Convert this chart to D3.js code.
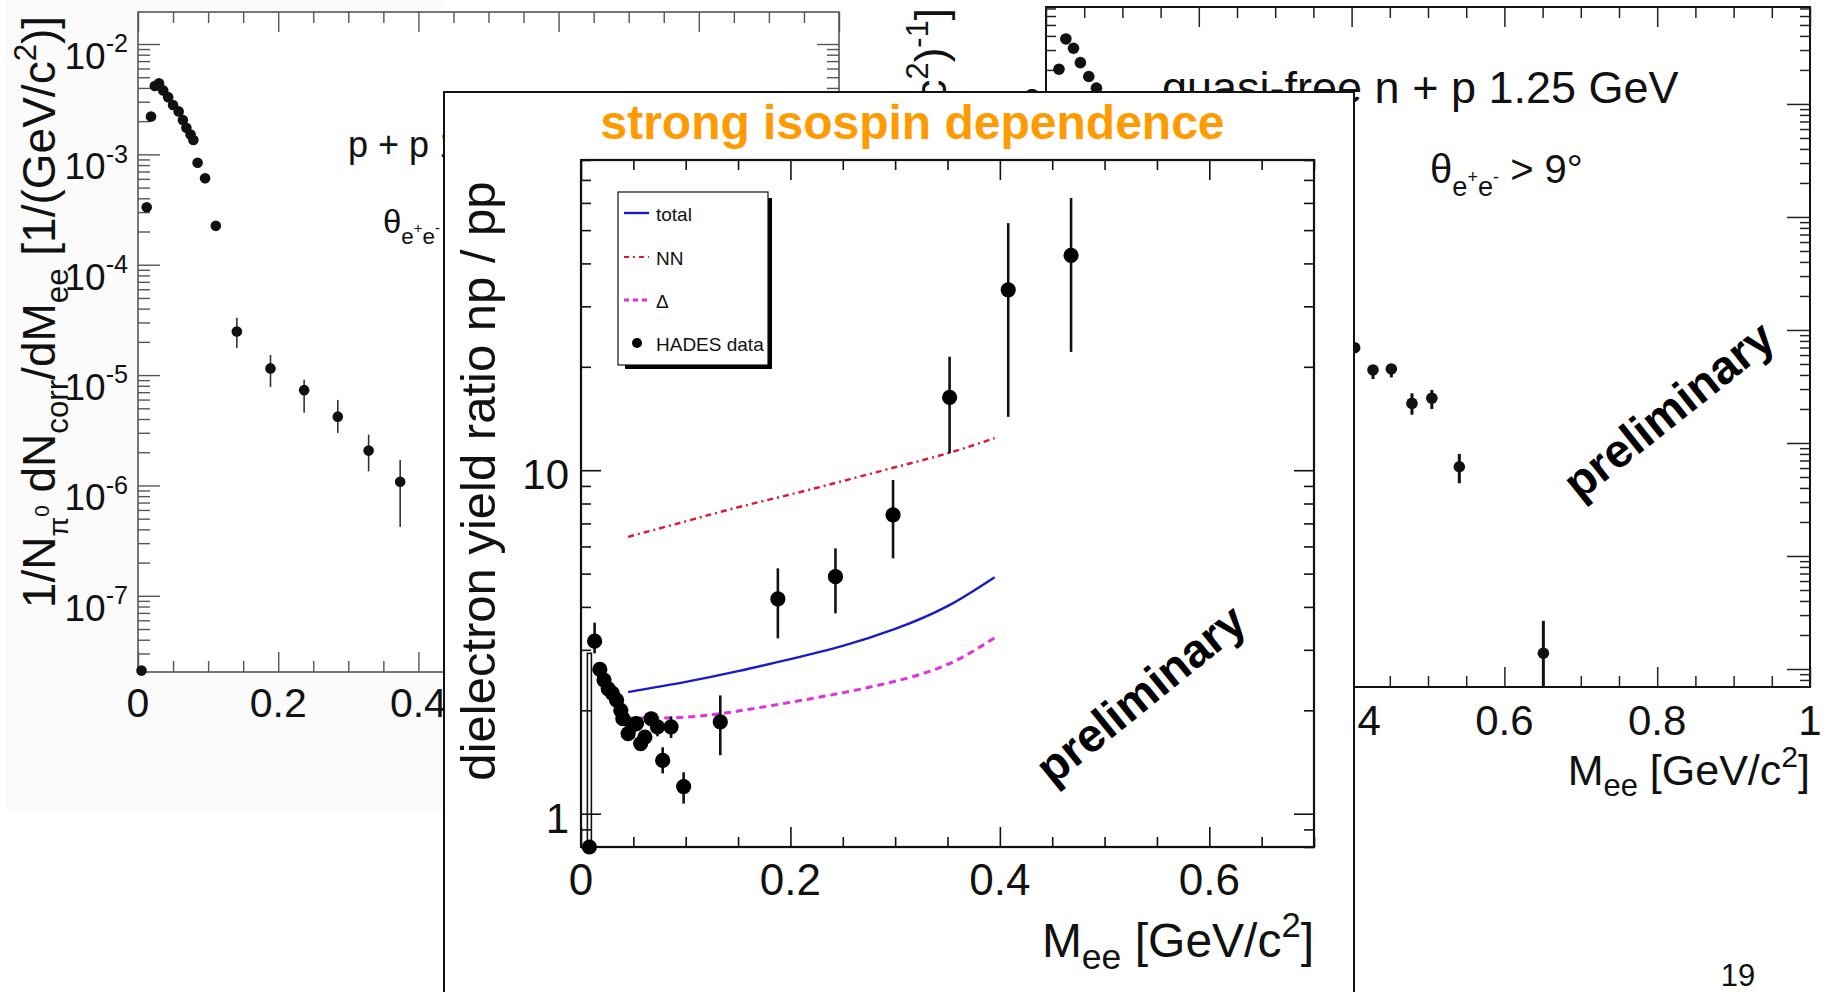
<!DOCTYPE html>
<html><head><meta charset="utf-8">
<script src="https://cdn.jsdelivr.net/npm/d3@7"></script>
<style>
html,body{margin:0;padding:0;background:#fff;}
svg{display:block;font-family:"Liberation Sans",Arial,Helvetica,sans-serif;}
</style></head><body>
<svg id="c" width="1830" height="992"></svg>
<script>
// ================= DATA =================
// Left panel: p + p, 1/N_pi0 dN/dMee
const ppMass  = [0.005, 0.0124, 0.0186, 0.024, 0.030, 0.036, 0.043, 0.050, 0.058, 0.064, 0.069, 0.075, 0.079, 0.085, 0.0957, 0.111, 0.141, 0.189, 0.237, 0.285, 0.329, 0.374];
const ppYield = [2.1e-8, 3.32e-4, 2.2e-3, 4.17e-3, 4.4e-3, 3.8e-3, 3.3e-3, 2.8e-3, 2.45e-3, 2.05e-3, 1.74e-3, 1.51e-3, 1.35e-3, 8.4e-4, 6.07e-4, 2.25e-4, 2.48e-5, 1.15e-5, 7.3e-6, 4.2e-6, 2.07e-6, 1.08e-6];
const ppErrLo = [null, null, null, null, null, null, null, null, null, null, null, null, null, null, null, null, 1.76e-5, 7.8e-6, 4.55e-6, 2.99e-6, 1.34e-6, 4.2e-7];
const ppErrHi = [null, null, null, null, null, null, null, null, null, null, null, null, null, null, null, null, 3.30e-5, 1.52e-5, 9.05e-6, 5.96e-6, 2.88e-6, 1.7e-6];
const ppYTickExp = [-2, -3, -4, -5, -6, -7];
const ppXTickLabels = ["0", "0.2", "0.4", "0.6", "0.8", "1"];

// Right panel: quasi-free n + p
const npMass  = [0.017, 0.026, 0.036, 0.045, 0.056, 0.066, 0.404, 0.428, 0.452, 0.479, 0.505, 0.541, 0.651];
const npYield = [2.03e-2, 3.76e-2, 3.11e-2, 2.32e-2, 1.75e-2, 1.38e-2, 6.97e-5, 4.43e-5, 4.52e-5, 2.24e-5, 2.49e-5, 6.16e-6, 1.38e-7];
const npErrLo = [null, null, null, null, null, null, null, 3.68e-5, 3.8e-5, 1.78e-5, 2.0e-5, 4.4e-6, 5e-8];
const npErrHi = [null, null, null, null, null, null, null, 4.9e-5, 5.0e-5, 2.75e-5, 2.95e-5, 8.0e-6, 2.67e-7];
const npYTickExp = [-2, -3, -4, -5, -6, -7];
const npXTickLabels = ["0", "0.2", "0.4", "0.6", "0.8", "1"];

// Middle panel: dielectron yield ratio np / pp
const ratioMass  = [0.008, 0.013, 0.018, 0.022, 0.026, 0.030, 0.034, 0.038, 0.040, 0.045, 0.049, 0.053, 0.057, 0.061, 0.067, 0.073, 0.078, 0.086, 0.098, 0.133, 0.188, 0.243, 0.298, 0.352, 0.408, 0.468];
const ratioValue = [0.8, 3.18, 2.63, 2.45, 2.31, 2.24, 2.14, 2.0, 1.89, 1.71, 1.81, 1.83, 1.6, 1.67, 1.89, 1.79, 1.43, 1.79, 1.2, 1.85, 4.22, 4.9, 7.41, 16.3, 33.5, 42.2];
const ratioErrLo = [0.8, 2.93, 2.55, 2.38, 2.25, 2.18, 2.08, 1.94, 1.83, 1.65, 1.75, 1.76, 1.54, 1.61, 1.80, 1.68, 1.31, 1.66, 1.07, 1.48, 3.24, 3.83, 5.54, 11.2, 14.3, 22.1];
const ratioErrHi = [2.93, 3.6, 2.71, 2.52, 2.37, 2.30, 2.20, 2.06, 1.95, 1.77, 1.87, 1.90, 1.66, 1.73, 1.98, 1.88, 1.56, 1.92, 1.32, 2.21, 5.18, 5.92, 9.37, 21.4, 52.4, 62.0];
const curveMass  = [0.045, 0.1, 0.15, 0.2, 0.25, 0.3, 0.35, 0.395];
const totalCurve = [2.26, 2.42, 2.6, 2.82, 3.08, 3.45, 4.02, 4.88];
const nnCurve    = [6.4, 7.1, 7.8, 8.5, 9.3, 10.2, 11.2, 12.4];
const deltaCurve = [1.9, 1.91, 1.99, 2.11, 2.25, 2.43, 2.72, 3.25];
const ratioYTicks = [1, 10];
const ratioYTickLabels = ["1", "10"];
const ratioXTicks = [0, 0.2, 0.4, 0.6];
const ratioXTickLabels = ["0", "0.2", "0.4", "0.6"];
const legendLabels = ["total", "NN", "\u0394", "HADES data"];

// ================= HELPERS =================
const svg = d3.select('#c');
svg.append('rect').attr('width', 1830).attr('height', 992).attr('fill', '#fff');

const isMajor = v => Math.abs(Math.log10(v) - Math.round(Math.log10(v))) < 1e-9;

function drawTicks(g, scale, orient, pos, values, len, stroke, sw) {
  const gen = {left: d3.axisLeft, right: d3.axisRight, top: d3.axisTop, bottom: d3.axisBottom}[orient];
  const axis = gen(scale).tickValues(values).tickSizeInner(-len).tickSizeOuter(0).tickFormat('');
  const t = (orient === 'left' || orient === 'right') ? `translate(${pos},0)` : `translate(0,${pos})`;
  const a = g.append('g').attr('transform', t).call(axis);
  a.select('.domain').remove();
  a.selectAll('line').attr('stroke', stroke).attr('stroke-width', sw);
}

// rich text: parts [{t, off (em, + = down), scale}]
function rich(parent, parts, size, attrs) {
  const t = parent.append('text').attr('font-size', size).attr('fill', '#111');
  Object.entries(attrs || {}).forEach(([k, v]) => t.attr(k, v));
  let cur = 0;
  parts.forEach(p => {
    const off = (p.off || 0) * size;
    const ts = t.append('tspan').text(p.t).attr('dy', off - cur);
    if (p.scale) ts.attr('font-size', size * p.scale);
    cur = off;
  });
  return t;
}

function powLabel(g, x, y, exp, size, anchor) {
  return rich(g, [{t: '10'}, {t: String(exp), off: -0.45, scale: 0.68}], size, {x: x, y: y, 'text-anchor': anchor || 'end'});
}

function logAxes(g, ys, x0, x1, majorLen, minorLen, stroke, sw) {
  const all = ys.ticks();
  const maj = all.filter(isMajor), min = all.filter(v => !isMajor(v));
  drawTicks(g, ys, 'left', x0, maj, majorLen, stroke, sw);
  drawTicks(g, ys, 'left', x0, min, minorLen, stroke, sw);
  drawTicks(g, ys, 'right', x1, maj, majorLen, stroke, sw);
  drawTicks(g, ys, 'right', x1, min, minorLen, stroke, sw);
}
function linAxes(g, xs, y0, y1, major, minor, majorLen, minorLen, stroke, sw) {
  drawTicks(g, xs, 'bottom', y1, major, majorLen, stroke, sw);
  drawTicks(g, xs, 'bottom', y1, minor, minorLen, stroke, sw);
  drawTicks(g, xs, 'top', y0, major, majorLen, stroke, sw);
  drawTicks(g, xs, 'top', y0, minor, minorLen, stroke, sw);
}

// ================= LEFT PANEL (p + p) =================
(function () {
  const g = svg.append('g');
  g.append('rect').attr('x', 6).attr('y', 0).attr('width', 438).attr('height', 813).attr('fill', '#fbfbfb');
  const x = d3.scaleLinear().domain([0, 1]).range([138, 839]);
  const y = d3.scaleLog().domain([2.04e-8, 1.95e-2]).range([672, 12]);
  g.append('rect').attr('x', 138).attr('y', 12).attr('width', 701).attr('height', 660)
    .attr('fill', '#fff').attr('stroke', '#555').attr('stroke-width', 1.6);
  logAxes(g, y, 138, 839, 22, 12, '#555', 1.4);
  const xt = x.ticks(20);
  linAxes(g, x, 12, 672, xt.filter((v, i) => i % 4 === 0), xt.filter((v, i) => i % 4 !== 0), 20, 11, '#555', 1.4);

  ppYTickExp.forEach(e => powLabel(g, 128, y(Math.pow(10, e)) + 25, e, 37));
  x.ticks(5).forEach((v, i) => g.append('text').attr('x', x(v)).attr('y', 717).attr('text-anchor', 'middle')
    .attr('font-size', 41).attr('fill', '#111').text(ppXTickLabels[i]));

  rich(g, [{t: '1/N'}, {t: '\u03c0', off: 0.28, scale: 0.62}, {t: '0', off: -0.12, scale: 0.45},
    {t: ' dN'}, {t: 'corr', off: 0.28, scale: 0.68}, {t: '/dM'}, {t: 'ee', off: 0.28, scale: 0.68},
    {t: ' [1/(GeV/c'}, {t: '2', off: -0.42, scale: 0.68}, {t: ')]'}], 46,
    {transform: 'translate(55,312) rotate(-90)', 'text-anchor': 'middle'});

  rich(g, [{t: 'p + p 1.25 GeV'}], 36, {x: 348, y: 157});
  rich(g, [{t: '\u03b8'}, {t: 'e', off: 0.32, scale: 0.68}, {t: '+', off: 0.0, scale: 0.45}, {t: 'e', off: 0.32, scale: 0.68},
    {t: '-', off: 0.0, scale: 0.45}, {t: ' > 9\u00b0'}], 33, {x: 383, y: 233});

  ppMass.forEach((m, i) => {
    if (ppErrLo[i] != null) {
      g.append('line').attr('x1', x(m)).attr('x2', x(m)).attr('y1', y(ppErrLo[i])).attr('y2', y(ppErrHi[i]))
        .attr('stroke', '#333').attr('stroke-width', 1.6);
    }
    g.append('circle').attr('cx', x(m)).attr('cy', y(ppYield[i])).attr('r', 5.3).attr('fill', '#111');
  });
})();

// ================= RIGHT PANEL (n + p) =================
(function () {
  const g = svg.append('g');
  const x = d3.scaleLinear().domain([0, 1]).range([1046, 1810]);
  const y = d3.scaleLog().domain([6.93e-8, 7.21e-2]).range([687, 7]);
  g.append('rect').attr('x', 1046).attr('y', 7).attr('width', 764).attr('height', 680)
    .attr('fill', '#fff').attr('stroke', '#111').attr('stroke-width', 2);
  logAxes(g, y, 1046, 1810, 23, 10, '#222', 1.5);
  const xt = x.ticks(20);
  linAxes(g, x, 7, 687, xt.filter((v, i) => i % 4 === 0), xt.filter((v, i) => i % 4 !== 0), 20, 11, '#222', 1.5);

  npYTickExp.forEach(e => powLabel(g, 1040, y(Math.pow(10, e)) + 23, e, 42));
  x.ticks(5).forEach((v, i) => g.append('text').attr('x', x(v)).attr('y', 735).attr('text-anchor', 'middle')
    .attr('font-size', 42).attr('fill', '#111').text(npXTickLabels[i]));

  rich(g, [{t: 'M'}, {t: 'ee', off: 0.25, scale: 0.72}, {t: ' [GeV/c'}, {t: '2', off: -0.42, scale: 0.7}, {t: ']'}], 43,
    {x: 1810, y: 785, 'text-anchor': 'end'});
  rich(g, [{t: '1/N dN/dM'}, {t: 'ee', off: 0.25, scale: 0.72}, {t: ' [(GeV/c'}, {t: '2', off: -0.42, scale: 0.7},
    {t: ')'}, {t: '-1', off: -0.42, scale: 0.7}, {t: ']'}], 44,
    {transform: 'translate(946,8) rotate(-90)', 'text-anchor': 'end'});

  rich(g, [{t: 'quasi-free n + p 1.25 GeV'}], 45, {x: 1162, y: 103});
  rich(g, [{t: '\u03b8'}, {t: 'e', off: 0.32, scale: 0.68}, {t: '+', off: 0.0, scale: 0.45}, {t: 'e', off: 0.32, scale: 0.68},
    {t: '-', off: 0.0, scale: 0.45}, {t: ' > 9\u00b0'}], 40, {x: 1430, y: 183});

  g.append('text').attr('transform', 'translate(1671,413) rotate(-38.5)').attr('text-anchor', 'middle')
    .attr('dominant-baseline', 'middle').attr('font-size', 47).attr('font-weight', 'bold').attr('fill', '#000').text('preliminary');

  const [d0, d1] = y.domain();
  npMass.forEach((m, i) => {
    if (npErrLo[i] != null) {
      g.append('line').attr('x1', x(m)).attr('x2', x(m))
        .attr('y1', y(Math.max(d0, npErrLo[i]))).attr('y2', y(Math.min(d1, npErrHi[i])))
        .attr('stroke', '#111').attr('stroke-width', 3);
    }
    g.append('circle').attr('cx', x(m)).attr('cy', y(npYield[i])).attr('r', 5.8).attr('fill', '#111');
  });
  g.append('text').attr('x', 1738).attr('y', 986).attr('text-anchor', 'middle').attr('font-size', 31).attr('fill', '#111').text('19');
})();

// ================= MIDDLE PANEL (ratio) =================
(function () {
  const g = svg.append('g');
  g.append('rect').attr('x', 444).attr('y', 92).attr('width', 910).attr('height', 920)
    .attr('fill', '#fff').attr('stroke', '#111').attr('stroke-width', 2);
  g.append('text').attr('x', 912.5).attr('y', 139).attr('text-anchor', 'middle').attr('font-size', 48)
    .attr('font-weight', 'bold').attr('fill', '#ff9a00').text('strong isospin dependence');

  const x = d3.scaleLinear().domain([0, 0.7]).range([581, 1314]);
  const y = d3.scaleLog().domain([0.8, 80]).range([847, 160]);
  g.append('rect').attr('x', 581).attr('y', 160).attr('width', 733).attr('height', 687)
    .attr('fill', 'none').attr('stroke', '#111').attr('stroke-width', 2.2);
  logAxes(g, y, 581, 1314, 20, 10, '#111', 1.6);
  const xt = x.ticks(14);
  linAxes(g, x, 160, 847, ratioXTicks, xt.filter(v => !ratioXTicks.some(m => Math.abs(m - v) < 1e-9)), 20, 10, '#111', 1.6);

  ratioYTicks.forEach((v, i) => g.append('text').attr('x', 569).attr('y', y(v) + 19).attr('text-anchor', 'end')
    .attr('font-size', 42).attr('fill', '#111').text(ratioYTickLabels[i]));
  ratioXTicks.forEach((v, i) => g.append('text').attr('x', x(v)).attr('y', 895).attr('text-anchor', 'middle')
    .attr('font-size', 44).attr('fill', '#111').text(ratioXTickLabels[i]));

  rich(g, [{t: 'M'}, {t: 'ee', off: 0.25, scale: 0.74}, {t: ' [GeV/c'}, {t: '2', off: -0.42, scale: 0.72}, {t: ']'}], 48,
    {x: 1314, y: 957, 'text-anchor': 'end'});
  g.append('text').attr('transform', 'translate(495,481) rotate(-90)').attr('text-anchor', 'middle')
    .attr('font-size', 49).attr('fill', '#111').text('dielectron yield ratio np / pp');

  // curves
  const line = vals => d3.line().curve(d3.curveNatural).x((d, i) => x(curveMass[i])).y(d => y(d))(vals);
  g.append('path').attr('d', line(nnCurve)).attr('fill', 'none').attr('stroke', '#dd1830').attr('stroke-width', 2.4)
    .attr('stroke-dasharray', '6,4,2,4');
  g.append('path').attr('d', line(deltaCurve)).attr('fill', 'none').attr('stroke', '#e030e0').attr('stroke-width', 3)
    .attr('stroke-dasharray', '7,5');
  g.append('path').attr('d', line(totalCurve)).attr('fill', 'none').attr('stroke', '#1a1ac8').attr('stroke-width', 2.4);

  // data
  ratioMass.forEach((m, i) => {
    if (i === 0) {
      g.append('rect').attr('x', x(m) - 2).attr('y', y(ratioErrHi[i])).attr('width', 4)
        .attr('height', y(Math.max(0.8, ratioErrLo[i])) - y(ratioErrHi[i])).attr('fill', 'none')
        .attr('stroke', '#111').attr('stroke-width', 1.6);
    } else {
      g.append('line').attr('x1', x(m)).attr('x2', x(m)).attr('y1', y(ratioErrLo[i])).attr('y2', y(ratioErrHi[i]))
        .attr('stroke', '#111').attr('stroke-width', 2.6);
    }
  });
  ratioMass.forEach((m, i) => {
    g.append('circle').attr('cx', x(m)).attr('cy', y(ratioValue[i])).attr('r', 7.6).attr('fill', '#000');
  });

  g.append('text').attr('transform', 'translate(1143,697) rotate(-39)').attr('text-anchor', 'middle')
    .attr('dominant-baseline', 'middle').attr('font-size', 47).attr('font-weight', 'bold').attr('fill', '#000').text('preliminary');

  // legend
  const lg = g.append('g');
  lg.append('rect').attr('x', 768).attr('y', 198).attr('width', 4).attr('height', 171).attr('fill', '#000');
  lg.append('rect').attr('x', 625).attr('y', 365).attr('width', 147).attr('height', 4).attr('fill', '#000');
  lg.append('rect').attr('x', 618).attr('y', 192).attr('width', 150).attr('height', 173).attr('fill', '#fff')
    .attr('stroke', '#111').attr('stroke-width', 1.2);
  const rowsY = [213, 257, 300, 343];
  const styles = [
    {stroke: '#1a1ac8', dash: null, w: 2.4},
    {stroke: '#dd1830', dash: '5,4,2,4', w: 2},
    {stroke: '#e030e0', dash: '5,4', w: 3},
    null];
  legendLabels.forEach((lab, i) => {
    const s = styles[i];
    if (s) {
      const l = lg.append('line').attr('x1', 624).attr('x2', 649).attr('y1', rowsY[i]).attr('y2', rowsY[i])
        .attr('stroke', s.stroke).attr('stroke-width', s.w);
      if (s.dash) l.attr('stroke-dasharray', s.dash);
    } else {
      lg.append('circle').attr('cx', 637).attr('cy', rowsY[i]).attr('r', 5).attr('fill', '#000');
    }
    lg.append('text').attr('x', 656).attr('y', rowsY[i] + 8).attr('font-size', 19).attr('fill', '#111').text(lab);
  });
})();
</script>
</body></html>
